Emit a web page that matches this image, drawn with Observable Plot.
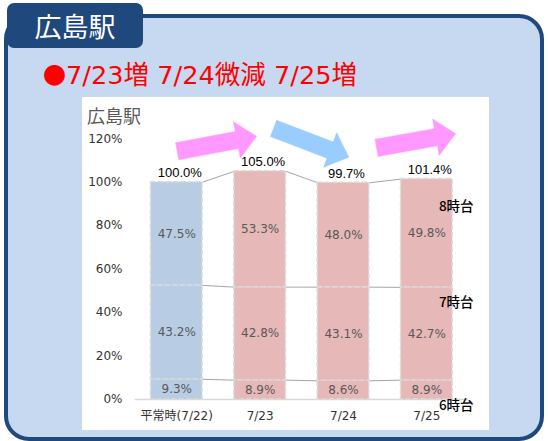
<!DOCTYPE html>
<html><head><meta charset="utf-8">
<script src="https://cdn.jsdelivr.net/npm/d3@7"></script>
<script src="https://cdn.jsdelivr.net/npm/@observablehq/plot@0.6"></script>
<style>
html,body{margin:0;padding:0;}
body{width:548px;height:441px;position:relative;overflow:hidden;background:#fff;font-family:"DejaVu Sans","Noto Sans CJK JP",sans-serif;}
#panel{position:absolute;left:4px;top:14px;width:540px;height:427px;box-sizing:border-box;border:4.5px solid #1f497d;border-radius:25px;background:#c6d9f1;}
#tab{position:absolute;left:7px;top:3px;width:136px;height:45px;background:#1f497d;border-radius:7px;color:#fff;font-family:"Noto Sans CJK JP",sans-serif;font-size:27px;line-height:46px;text-align:center;}
#headline{position:absolute;left:43px;top:57px;color:#ff0000;font-size:25.6px;line-height:32px;white-space:nowrap;font-family:"DejaVu Sans","Noto Sans CJK JP",sans-serif;}
#headline .k{font-family:"Noto Sans CJK JP",sans-serif;}
#headline .dot{font-family:"Noto Sans CJK JP",sans-serif;font-size:23px;}
#chart{position:absolute;left:82px;top:97px;width:407px;height:333px;background:#fff;}
#ctitle{position:absolute;left:5px;top:6px;font-family:"Noto Sans CJK JP",sans-serif;font-size:18px;line-height:24px;color:#595959;}
#chart svg{position:absolute;left:0;top:0;}
</style></head>
<body>
<div id="panel"></div>
<div id="tab">広島駅</div>
<div id="headline"><span class="dot">●</span>7/23<span class="k">増</span> 7/24<span class="k">微減</span> 7/25<span class="k">増</span></div>
<div id="chart"><div id="ctitle">広島駅</div></div>
<script>
// ---- data ----
const categories = ["平常時(7/22)", "7/23", "7/24", "7/25"];
const hours = ["6時台", "7時台", "8時台"];
const share6 = [9.3, 8.9, 8.6, 8.9];
const share7 = [43.2, 42.8, 43.1, 42.7];
const share8 = [47.5, 53.3, 48.0, 49.8];
const totals = [100.0, 105.0, 99.7, 101.4];
const yTicks = [0, 20, 40, 60, 80, 100, 120];

// ---- layout ----
const W = 407, H = 333;
const mL = 52.6, mR = 21, mT = 41.2, mB = 31;
const xDomain = [-0.5, 3.5], yDomain = [0, 120];
const kx = (W - mL - mR) / (xDomain[1] - xDomain[0]);
const ky = (H - mT - mB) / (yDomain[1] - yDomain[0]);
const hw = 25.8 / kx; // half bar width in x units
const blue = "#b8cce4", red = "#e6b8b7";

const shares = [share6, share7, share8];
const segs = [];
categories.forEach((c, i) => {
  let acc = 0;
  shares.forEach((s, h) => {
    segs.push({i, h, v: s[i], y1: acc, y2: acc + s[i]});
    acc += s[i];
  });
});
const levelsOf = i => [share6[i], share6[i] + share7[i], totals[i]];
const links = [];
for (let i = 0; i < categories.length - 1; i++) {
  const a = levelsOf(i), b = levelsOf(i + 1);
  a.forEach((v, k) => links.push({x1: i + hw, y1: v, x2: i + 1 - hw, y2: b[k]}));
}

// arrows (decoration) between consecutive days
const arrowGeom = [
  {tail: [0.005, 114.2], tip: [0.957, 121.1]},
  {tail: [1.161, 124.7], tip: [2.064, 111.5]},
  {tail: [2.397, 115.8], tip: [3.345, 122.3]}
];
const shaftHW = 8.7, headHW = 18.5, headLen = 20;
function arrowPoly(tail, tip) {
  const P = ([x, y]) => [x * kx, -y * ky];
  const D = ([px, py]) => [px / kx, -py / ky];
  const t = P(tail), h = P(tip);
  const dx = h[0] - t[0], dy = h[1] - t[1], L = Math.hypot(dx, dy);
  const u = [dx / L, dy / L], n = [-u[1], u[0]];
  const at = (a, b) => D([h[0] + a * u[0] + b * n[0], h[1] + a * u[1] + b * n[1]]);
  const pts = [at(-L, -shaftHW), at(-headLen, -shaftHW), at(-headLen, -headHW), at(0, 0),
               at(-headLen, headHW), at(-headLen, shaftHW), at(-L, shaftHW)];
  pts.push(pts[0]);
  return pts;
}
const arrowMarks = arrowGeom.map((g, j) => {
  const up = totals[j + 1] > totals[j];
  const col = up ? "#ff99ff" : "#99ccff";
  return Plot.line(arrowPoly(g.tail, g.tip), {x: d => d[0], y: d => d[1], fill: col, stroke: col, strokeWidth: 0.5, curve: "linear"});
});

// hour labels at right of last bar
const last = categories.length - 1;
const hourLabelY = [-2.8, 44.5, 88.5];

const plot = Plot.plot({
  width: W, height: H,
  marginLeft: mL, marginRight: mR, marginTop: mT, marginBottom: mB,
  style: {fontFamily: "'DejaVu Sans','Noto Sans CJK JP',sans-serif", fontSize: "12px", background: "transparent", color: "#333333", overflow: "visible"},
  x: {type: "linear", domain: xDomain, ticks: categories.map((c, i) => i), tickFormat: i => categories[i], tickSize: 0, tickPadding: 12, label: null},
  y: {domain: yDomain, ticks: yTicks, tickFormat: d => d + "%", tickSize: 0, tickPadding: 12.6, label: null},
  marks: [
    Plot.ruleY([0], {stroke: "#d9d9d9", strokeWidth: 1.5}),
    Plot.link(links, {x1: "x1", y1: "y1", x2: "x2", y2: "y2", stroke: "#a6a6a6", strokeWidth: 1}),
    Plot.rect(segs, {x1: d => d.i - hw, x2: d => d.i + hw, y1: "y1", y2: "y2",
      fill: d => d.i === 0 ? blue : red, stroke: "#dadada", strokeWidth: 1.5, strokeDasharray: "5,2.5"}),
    Plot.text(segs, {x: "i", y: d => (d.y1 + d.y2) / 2, text: d => d.v.toFixed(1) + "%", fill: "#595959", fontSize: 12}),
    Plot.text(totals, {x: (d, i) => i, y: d => d, text: d => d.toFixed(1) + "%", dy: -9, dx: 3, fill: "#000", fontSize: 13, fontFamily: "'Liberation Sans',Arial,sans-serif"}),
    ...arrowMarks,
    Plot.text(hours, {x: () => last + 0.145, y: (d, k) => hourLabelY[k], text: d => d, textAnchor: "start", fill: "#000", fontSize: 13.5, fontWeight: 500, fontFamily: "'Noto Sans CJK JP',sans-serif"})
  ]
});
document.getElementById("chart").appendChild(plot);
</script>
</body></html>
